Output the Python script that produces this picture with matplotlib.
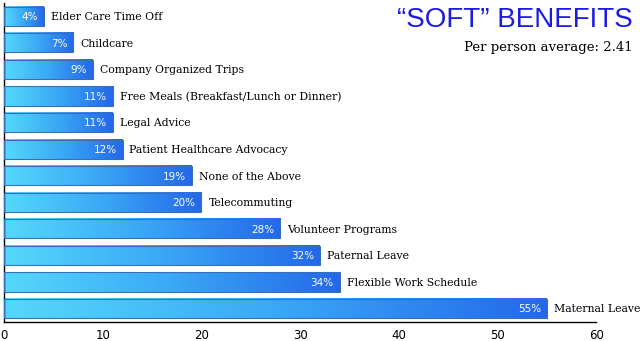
import numpy as np
import matplotlib
matplotlib.use("Agg")
import matplotlib.pyplot as plt
from matplotlib.colors import LinearSegmentedColormap

# ── data ──────────────────────────────────────────
benefits = [
    "Elder Care Time Off", "Childcare", "Company Organized Trips",
    "Free Meals (Breakfast/Lunch or Dinner)", "Legal Advice",
    "Patient Healthcare Advocacy", "None of the Above", "Telecommuting",
    "Volunteer Programs", "Paternal Leave", "Flexible Work Schedule",
    "Maternal Leave",
]
percents = [4, 7, 9, 11, 11, 12, 19, 20, 28, 32, 34, 55]
xticks = [0, 10, 20, 30, 40, 50, 60]

title = "\u201cSOFT\u201d BENEFITS"
subtitle = "Per person average: 2.41"

# ── figure ────────────────────────────────────────
fig = plt.figure(figsize=(6.4, 3.41), dpi=100)
ax = fig.add_axes([0.0065, 0.056, 0.925, 0.935])

grad = LinearSegmentedColormap.from_list("bar", ["#55d8fb", "#3aa8f6", "#2468ea"])
ramp = np.linspace(0, 1, 256).reshape(1, -1)
h = 0.72

for i, (name, v) in enumerate(zip(benefits, percents)):
    y = i
    ax.imshow(ramp, cmap=grad, aspect="auto", interpolation="bilinear",
              extent=[0, v, y + h / 2, y - h / 2], zorder=2)
    ax.add_patch(plt.Rectangle((0, y - h / 2), v, h, fill=False,
                               edgecolor="#3a6fb8", linewidth=0.8, zorder=3))
    ax.text(v - 0.6, y + 0.03, f"{v}%", ha="right", va="center",
            color="white", fontsize=7.5, family="DejaVu Sans", zorder=4)
    ax.text(v + 0.7, y + 0.03, name, ha="left", va="center",
            color="black", fontsize=7.8, family="DejaVu Serif", zorder=4)

ax.set_xlim(0, 60)
ax.set_ylim(11.5, -0.5)
ax.set_xticks(xticks)
ax.set_xticklabels([str(t) for t in xticks], fontsize=8.5)
ax.tick_params(axis="x", length=0, pad=5)
ax.set_yticks([])
for s in ["top", "right"]:
    ax.spines[s].set_visible(False)
ax.spines["left"].set_linewidth(1.0)
ax.spines["bottom"].set_linewidth(1.0)

fig.text(0.988, 0.94, title, ha="right", va="center", color="#1c1ce0",
         fontsize=20, family="Liberation Sans")
fig.text(0.988, 0.862, subtitle, ha="right", va="center", color="black",
         fontsize=9.5, family="DejaVu Serif")

fig.savefig("out.png", dpi=100)
